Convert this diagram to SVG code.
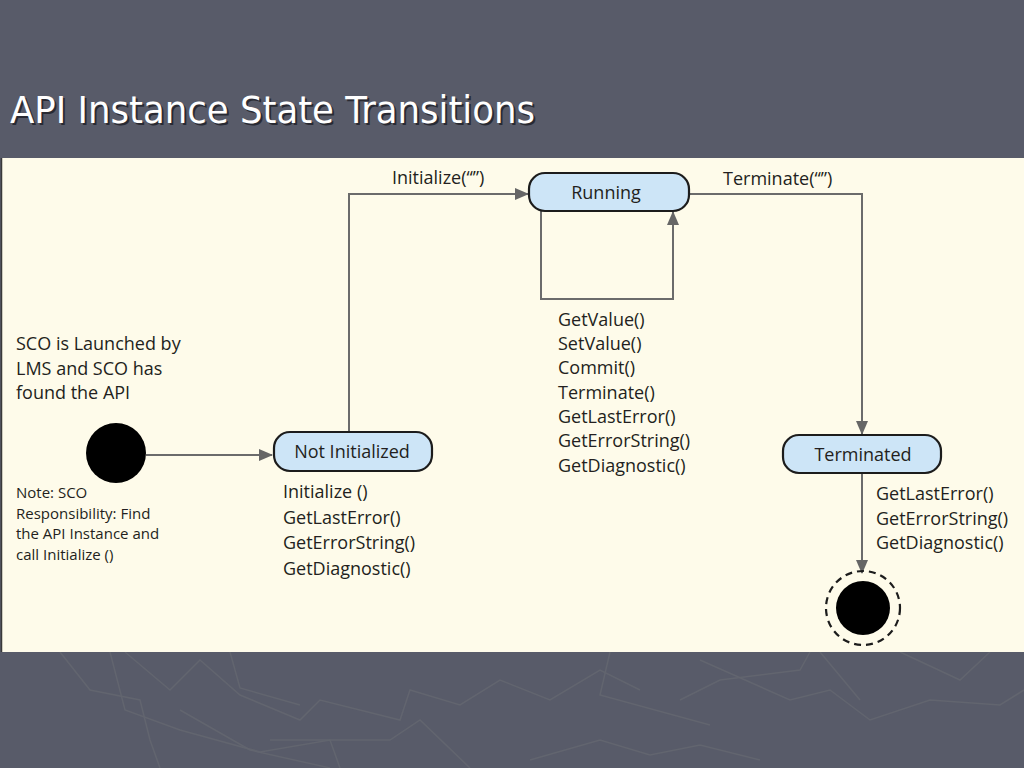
<svg xmlns="http://www.w3.org/2000/svg" width="1024" height="768" viewBox="0 0 1024 768">
<defs>
<style>
.bg{fill:#585b69}
.deco{fill:none;stroke:#62656f;stroke-width:1.5}
.panel{fill:#fefbea}
.title{font-family:"DejaVu Sans Condensed","DejaVu Sans",sans-serif;font-size:37px;fill:#ffffff}
.tshadow{font-family:"DejaVu Sans Condensed","DejaVu Sans",sans-serif;font-size:37px;fill:#1e1f26;opacity:0.8}
.state{fill:#cde5f7;stroke:#1c1c1c;stroke-width:2.2}
.lbl{font-family:"Open Sans","Liberation Sans",sans-serif;font-size:18px;fill:#231f20}
.note{font-family:"Open Sans","Liberation Sans",sans-serif;font-size:15px;fill:#231f20}
.big{font-family:"Open Sans","Liberation Sans",sans-serif;font-size:18px;fill:#231f20}
.conn{fill:none;stroke:#6b6b6b;stroke-width:2}
</style>
<marker id="arr" viewBox="0 0 14 12" refX="13" refY="6" markerWidth="14" markerHeight="12" markerUnits="userSpaceOnUse" orient="auto">
<path d="M0,0 L14,6 L0,12 Z" fill="#666666"/>
</marker>
</defs>
<rect class="bg" x="0" y="0" width="1024" height="768"/>
<g id="background-texture">
<polyline class="deco" points="60,652 90,690 140,700 150,740 160,768"/>
<polyline class="deco" points="110,652 125,710 180,730 260,752 330,740 340,768"/>
<polyline class="deco" points="125,652 170,690 200,660 240,695 300,720 320,700 400,720 410,690 460,705 500,680 550,700 600,670 640,690"/>
<polyline class="deco" points="230,652 240,688 300,705"/>
<polyline class="deco" points="180,710 250,750 330,768"/>
<polyline class="deco" points="270,740 390,740 420,720 470,768"/>
<polyline class="deco" points="610,652 600,695 710,725"/>
<polyline class="deco" points="680,700 720,680 800,670 810,652"/>
<polyline class="deco" points="700,660 790,700 830,690 870,720 930,700 1000,705 1024,690"/>
<polyline class="deco" points="820,652 860,700"/>
<polyline class="deco" points="900,652 960,680 990,652"/>
<polyline class="deco" points="530,760 600,740 650,755 700,745 760,760"/>
</g>
<g id="title">
<text class="tshadow" x="12" y="125" textLength="525" lengthAdjust="spacingAndGlyphs">API Instance State Transitions</text>
<text class="title" x="10" y="123" textLength="525" lengthAdjust="spacingAndGlyphs">API Instance State Transitions</text>
</g>
<rect class="panel" x="1" y="158" width="1023" height="494"/>
<line x1="1.5" y1="158" x2="1.5" y2="652" stroke="#3a3a3a" stroke-width="1.5"/>
<g id="connectors">
<line class="conn" x1="146" y1="455" x2="272" y2="455" marker-end="url(#arr)"/>
<polyline class="conn" points="349,432 349,194 528,194" marker-end="url(#arr)"/>
<polyline class="conn" points="541,211 541,299 673,299 673,212" marker-end="url(#arr)"/>
<polyline class="conn" points="689,194 862,194 862,434" marker-end="url(#arr)"/>
<line class="conn" x1="862" y1="473" x2="862" y2="573" marker-end="url(#arr)"/>
<text class="lbl" x="392" y="184">Initialize(“”)</text>
<text class="lbl" x="723" y="185">Terminate(“”)</text>
</g>
<g id="initial">
<circle cx="116" cy="453" r="30" fill="#000000"/>
<text class="big" x="16" y="350">SCO is Launched by</text>
<text class="big" x="16" y="375">LMS and SCO has</text>
<text class="big" x="16" y="399">found the API</text>
<text class="note" x="16" y="498">Note: SCO</text>
<text class="note" x="16" y="519">Responsibility:  Find</text>
<text class="note" x="16" y="539">the API Instance and</text>
<text class="note" x="16" y="560">call Initialize ()</text>
</g>
<g id="not-initialized">
<rect class="state" x="274" y="432" width="158" height="39" rx="16"/>
<text class="lbl" x="352" y="458" text-anchor="middle">Not Initialized</text>
<text class="lbl" x="283" y="498">Initialize ()</text>
<text class="lbl" x="283" y="524">GetLastError()</text>
<text class="lbl" x="283" y="549">GetErrorString()</text>
<text class="lbl" x="283" y="575">GetDiagnostic()</text>
</g>
<g id="running">
<rect class="state" x="529" y="173" width="160" height="38" rx="16"/>
<text class="lbl" x="606" y="199" text-anchor="middle">Running</text>
<text class="lbl" x="558" y="326">GetValue()</text>
<text class="lbl" x="558" y="350">SetValue()</text>
<text class="lbl" x="558" y="374">Commit()</text>
<text class="lbl" x="558" y="399">Terminate()</text>
<text class="lbl" x="558" y="423">GetLastError()</text>
<text class="lbl" x="558" y="447">GetErrorString()</text>
<text class="lbl" x="558" y="472">GetDiagnostic()</text>
</g>
<g id="terminated">
<rect class="state" x="783" y="435" width="158" height="38" rx="16"/>
<text class="lbl" x="863" y="461" text-anchor="middle">Terminated</text>
<text class="lbl" x="876" y="500">GetLastError()</text>
<text class="lbl" x="876" y="525">GetErrorString()</text>
<text class="lbl" x="876" y="549">GetDiagnostic()</text>
</g>
<g id="final">
<circle cx="863" cy="608" r="37" fill="none" stroke="#1c1c1c" stroke-width="2.2" stroke-dasharray="7,5"/>
<circle cx="863" cy="608" r="27" fill="#000000"/>
</g>
</svg>
